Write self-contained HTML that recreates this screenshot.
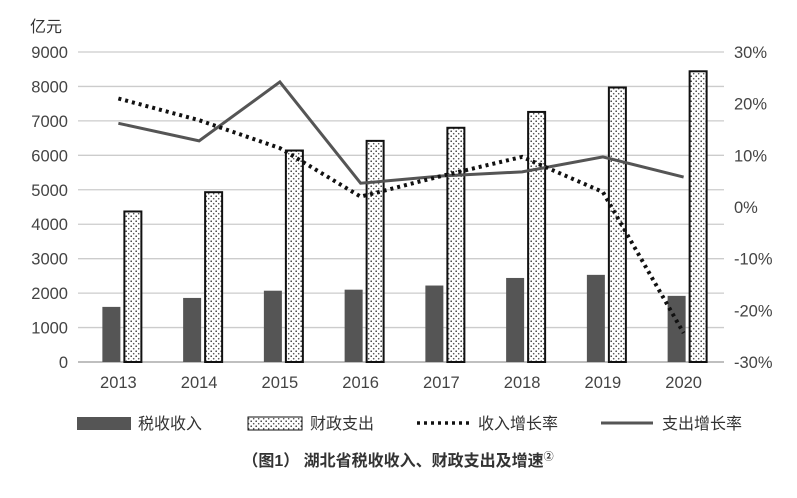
<!DOCTYPE html>
<html><head><meta charset="utf-8"><style>
body{margin:0;background:#fff;width:797px;height:493px;overflow:hidden;font-family:"Liberation Sans","Noto Sans CJK SC",sans-serif}
</style></head><body>
<svg id="c" width="797" height="493" xmlns="http://www.w3.org/2000/svg" font-family="Liberation Sans, Noto Sans CJK SC, sans-serif">
<defs><pattern id="dots" width="5" height="5" patternUnits="userSpaceOnUse"><rect width="5" height="5" fill="#fff"/><circle cx="1.2" cy="1.2" r="0.8" fill="#333"/><circle cx="3.7" cy="3.7" r="0.8" fill="#555"/></pattern></defs>
<g id="grid"></g><g id="bars"></g><g id="lines"></g><g id="axes"></g>
<text x="30" y="32" font-size="16" fill="#333">亿元</text>
<g font-size="16" fill="#333">
<rect x="77" y="417" width="54" height="13" fill="#555"/>
<text x="138" y="429">税收收入</text>
<rect x="248" y="417" width="54" height="13" fill="url(#dots)" stroke="#111"/>
<text x="310" y="429">财政支出</text>
<line x1="417" y1="423" x2="469" y2="423" stroke="#111" stroke-width="3.5" stroke-dasharray="3,4"/>
<text x="478" y="429">收入增长率</text>
<line x1="601" y1="423" x2="653" y2="423" stroke="#555" stroke-width="3"/>
<text x="662" y="429">支出增长率</text>
</g>
<text x="398" y="466" font-size="16" font-weight="bold" fill="#333" text-anchor="middle">（图1） 湖北省税收收入、财政支出及增速<tspan font-size="10" dy="-6">②</tspan></text>
</svg>
<script>
const years=["2013","2014","2015","2016","2017","2018","2019","2020"];
const tax=[1600,1860,2070,2100,2220,2440,2530,1920];
const exp=[4370,4930,6140,6420,6800,7260,7970,8440];
const revGrowth=[21,16.8,11.4,2,6,9.7,2.9,-24.4];
const expGrowth=[16.2,12.8,24.2,4.6,6,6.8,9.7,5.8];
const leftTicks=[0,1000,2000,3000,4000,5000,6000,7000,8000,9000];
const rightTicks=[-30,-20,-10,0,10,20,30];
const NS="http://www.w3.org/2000/svg";
const x0=78,x1=724,yb=362,yt=52;
const yL=v=>yb-(v/9000)*(yb-yt);
const yR=v=>yb-((v+30)/60)*(yb-yt);
const band=(x1-x0)/years.length;
const xc=i=>x0+band*(i+0.5);
function mk(t,a,p){const e=document.createElementNS(NS,t);for(const k in a)e.setAttribute(k,a[k]);document.getElementById(p).appendChild(e);return e;}
leftTicks.forEach(v=>{
 const l=mk('line',{x1:x0,x2:x1,y1:yL(v),y2:yL(v),stroke:v===0?'#999':'#ccc','stroke-width':1.3},'grid');
 
 
 const t=mk('text',{x:68,y:yL(v)+6,'font-size':16.5,fill:'#444','text-anchor':'end'},'axes');t.textContent=v;
 
 
});
rightTicks.forEach(v=>{
 const t=mk('text',{x:734,y:yR(v)+6,'font-size':16.5,fill:'#444'},'axes');t.textContent=v+'%';
 
 
});
years.forEach((y,i)=>{
 const t=mk('text',{x:xc(i),y:388,'font-size':16.5,fill:'#444','text-anchor':'middle'},'axes');t.textContent=y;
 
 
 const b1=mk('rect',{x:xc(i)-16,y:yL(tax[i]),width:18,height:yb-yL(tax[i]),fill:'#555'},'bars');
 
 
 const b2=mk('rect',{x:xc(i)+6,y:yL(exp[i]),width:17,height:yb-yL(exp[i]),fill:'url(#dots)',stroke:'#111','stroke-width':2},'bars');
 
 
});
const p1=mk('polyline',{points:expGrowth.map((v,i)=>xc(i)+','+yR(v)).join(' '),fill:'none',stroke:'#555','stroke-width':3},'lines');


const p2=mk('polyline',{points:revGrowth.map((v,i)=>xc(i)+','+yR(v)).join(' '),fill:'none',stroke:'#111','stroke-width':4,'stroke-dasharray':'3,4'},'lines');


</script>
</body></html>
